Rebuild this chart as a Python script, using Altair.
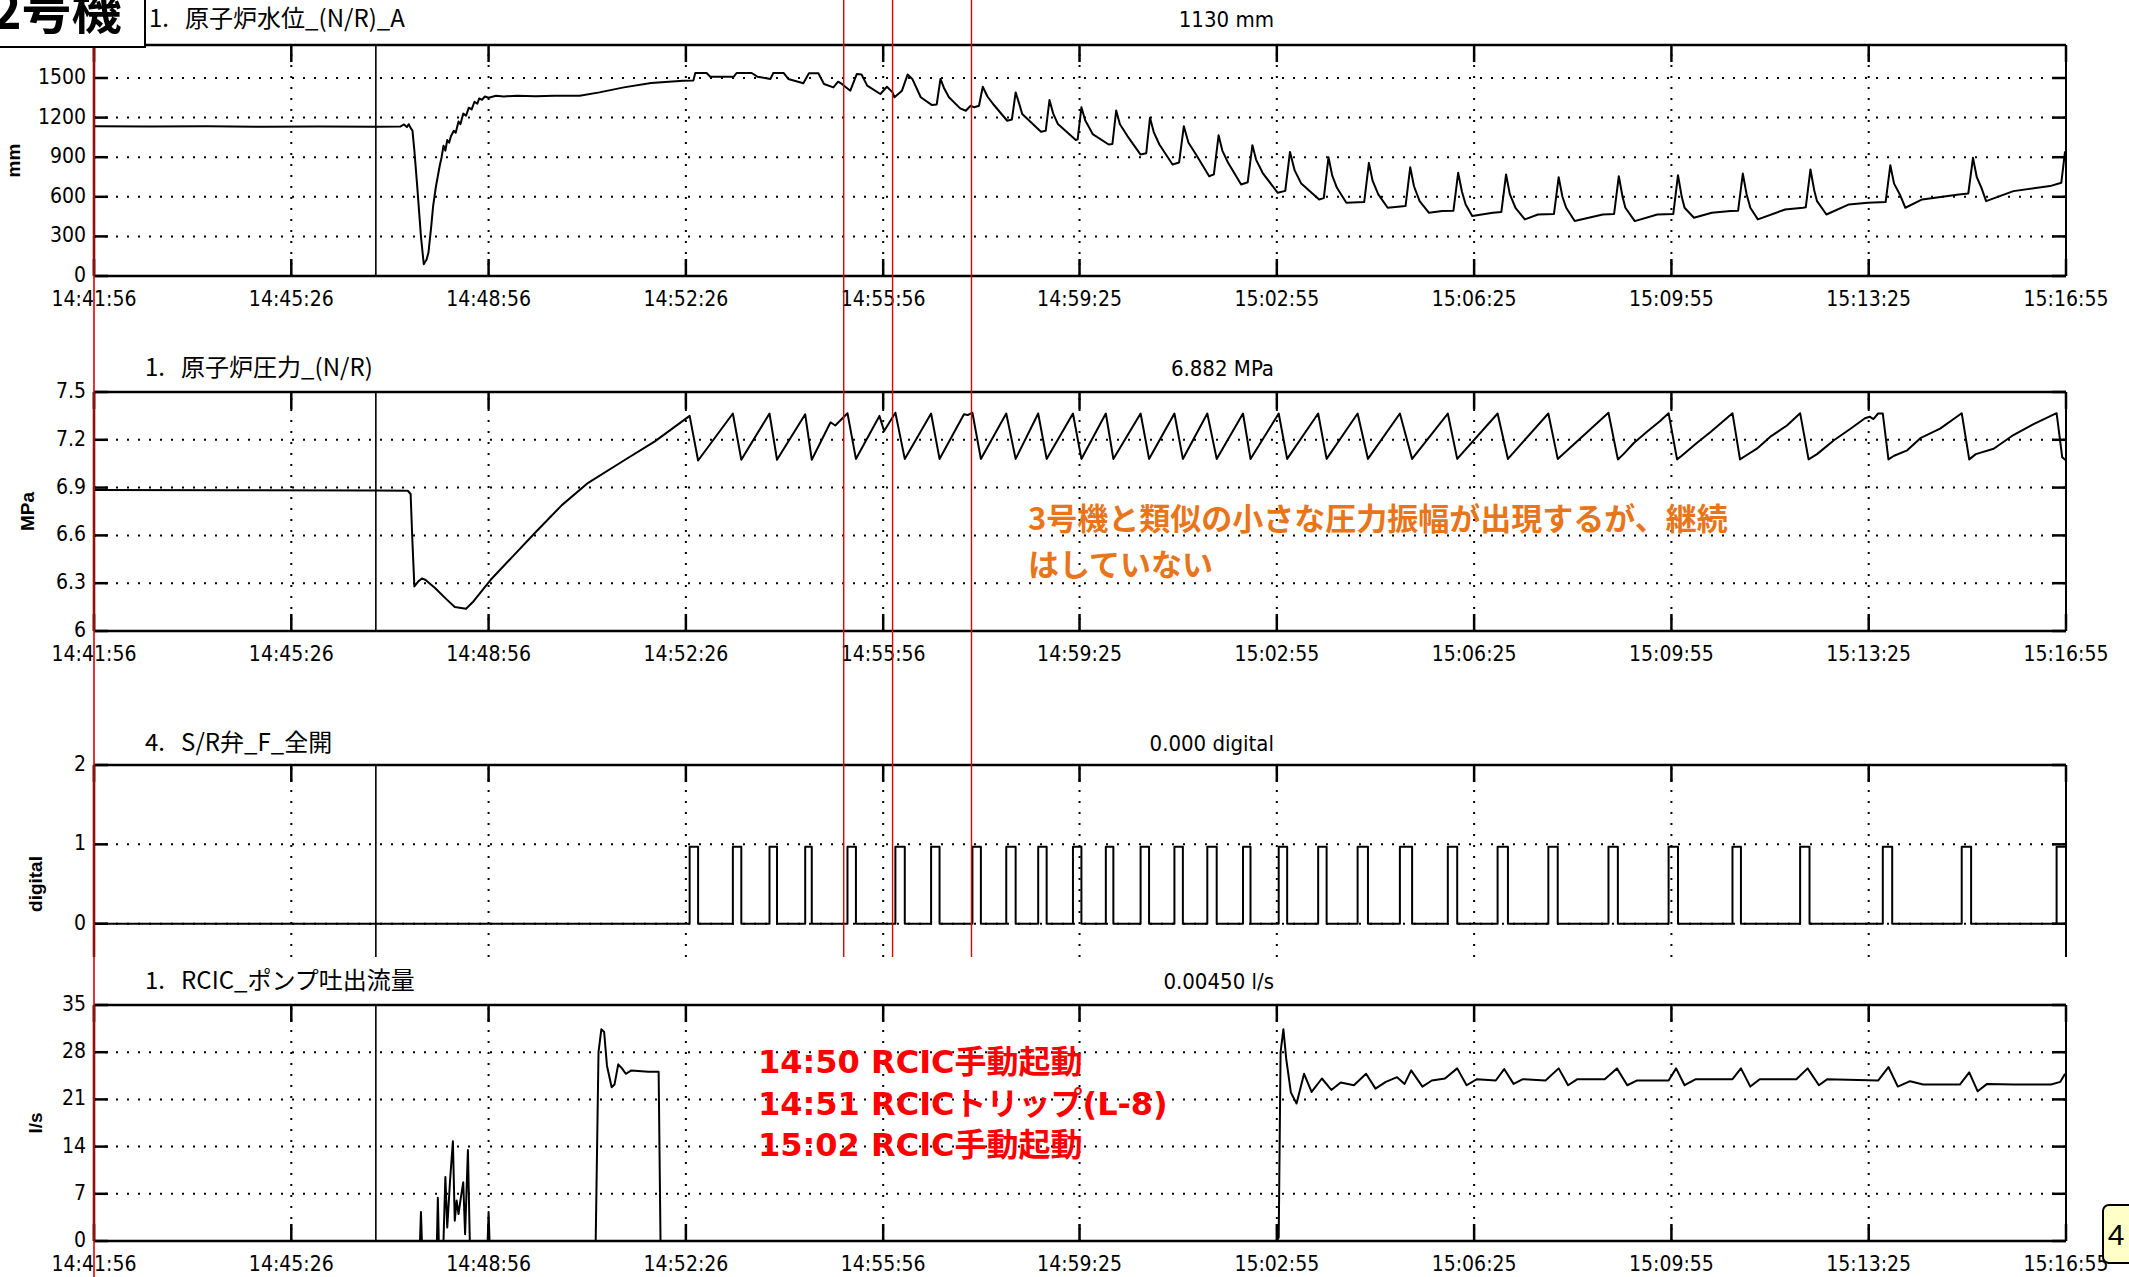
import altair as alt
import pandas as pd

# ---------------- values ----------------
TICK_SECONDS = [0, 210, 420, 630, 840, 1049, 1259, 1469, 1679, 1889, 2099]
TICK_LABELS = ["14:41:56", "14:45:26", "14:48:56", "14:52:26", "14:55:56",
               "14:59:25", "15:02:55", "15:06:25", "15:09:55", "15:13:25", "15:16:55"]
T_END = 2099

# 1. 原子炉水位 (mm), time in seconds after 14:41:56
LEVEL_T = [0, 60, 120, 180, 240, 300, 326, 330, 333, 335, 337, 339, 341, 344, 348, 351, 354, 356,
           359, 361, 364, 368, 370, 372, 374, 376, 378, 380, 383, 385, 388, 390, 393, 396, 399, 402,
           405, 408, 410, 413, 416, 420, 428, 436, 450, 470, 490, 517, 538, 564, 593, 627, 638, 640,
           652, 656, 681, 684, 700, 706, 720, 723, 734, 739, 755, 761, 771, 777, 787, 792, 796, 805,
           812, 817, 823, 837, 844, 850, 852, 860, 866, 871, 880, 892, 897, 901, 905, 910, 922, 928,
           933, 937, 942, 946, 951, 957, 972, 977, 981, 985, 988, 1008, 1013, 1017, 1021, 1026, 1045,
           1047, 1051, 1055, 1063, 1080, 1084, 1088, 1092, 1100, 1114, 1120, 1124, 1128, 1134, 1148,
           1155, 1160, 1165, 1173, 1187, 1192, 1197, 1201, 1207, 1221, 1228, 1233, 1237, 1244, 1260,
           1268, 1273, 1278, 1285, 1304, 1309, 1314, 1318, 1323, 1333, 1352, 1357, 1361, 1367, 1377,
           1396, 1401, 1405, 1411, 1421, 1435, 1447, 1452, 1456, 1460, 1467, 1489, 1498, 1503, 1507,
           1513, 1523, 1537, 1554, 1559, 1563, 1567, 1576, 1606, 1618, 1623, 1627, 1630, 1640, 1664,
           1681, 1686, 1690, 1693, 1703, 1722, 1742, 1750, 1755, 1759, 1763, 1771, 1800, 1819, 1822,
           1827, 1831, 1834, 1844, 1868, 1888, 1907, 1912, 1916, 1922, 1928, 1946, 1985, 1995, 2000,
           2004, 2009, 2014, 2043, 2082, 2094, 2098]
LEVEL_MM = [1135, 1133, 1134, 1131, 1132, 1130, 1132, 1148, 1128, 1150, 1122, 1100, 950, 683, 300, 89,
            125, 177, 380, 531, 680, 835, 900, 987, 950, 1030, 1010, 1060, 1100, 1085, 1170, 1150, 1230,
            1215, 1275, 1262, 1320, 1305, 1345, 1335, 1360, 1350, 1365, 1360, 1366, 1362, 1365, 1366,
            1391, 1429, 1462, 1480, 1482, 1538, 1538, 1510, 1510, 1538, 1538, 1510, 1493, 1538, 1538,
            1493, 1460, 1536, 1536, 1455, 1429, 1472, 1455, 1404, 1531, 1526, 1442, 1379, 1434, 1391,
            1354, 1404, 1526, 1493, 1354, 1295, 1300, 1493, 1420, 1354, 1270, 1252, 1290, 1278, 1290,
            1434, 1360, 1303, 1176, 1185, 1391, 1300, 1227, 1093, 1100, 1333, 1230, 1151, 1030, 1035,
            1278, 1180, 1075, 996, 1000, 1253, 1150, 1060, 920, 930, 1198, 1090, 996, 845, 860, 1134,
            1010, 920, 756, 770, 1066, 950, 860, 693, 710, 991, 880, 780, 630, 645, 940, 800, 700, 580,
            590, 900, 760, 668, 555, 560, 857, 720, 618, 517, 530, 824, 680, 567, 479, 492, 495, 782,
            640, 542, 454, 479, 485, 769, 620, 517, 429, 466, 470, 749, 600, 517, 416, 466, 470, 756,
            600, 517, 416, 466, 470, 764, 600, 517, 441, 479, 492, 495, 776, 620, 517, 429, 504, 517,
            520, 807, 650, 567, 466, 542, 555, 560, 839, 700, 620, 517, 580, 618, 625, 895, 750, 668,
            567, 643, 681, 706, 945]

# 1. 原子炉圧力 (MPa)
PRESS_T = [0, 150, 300, 334, 337, 339, 341, 345, 349, 353, 357, 363, 375, 384, 396, 403, 422, 446, 470,
           498, 526, 564, 597, 634, 643, 680, 689, 719, 727, 757, 764, 784, 789, 802, 811, 836, 841, 853,
           863, 891, 900, 926, 930, 935, 944, 971, 981, 1005, 1014, 1042, 1051, 1077, 1085, 1114, 1123,
           1150, 1159, 1185, 1195, 1223, 1231, 1261, 1270, 1303, 1312, 1345, 1356, 1390, 1403, 1441,
           1451, 1494, 1505, 1548, 1558, 1612, 1622, 1628, 1639, 1653, 1667, 1676, 1685, 1690, 1706,
           1721, 1744, 1752, 1758, 1770, 1784, 1802, 1816, 1825, 1834, 1852, 1870, 1885, 1890, 1894,
           1899, 1904, 1910, 1916, 1930, 1944, 1965, 1988, 1996, 2003, 2022, 2043, 2065, 2089, 2095, 2099]
PRESS_MPA = [6.885, 6.883, 6.882, 6.88, 6.86, 6.55, 6.28, 6.31, 6.33, 6.32, 6.30, 6.27, 6.20, 6.15, 6.14,
             6.18, 6.32, 6.47, 6.62, 6.79, 6.93, 7.07, 7.19, 7.35, 7.07, 7.365, 7.075, 7.365, 7.075,
             7.36, 7.075, 7.31, 7.29, 7.367, 7.08, 7.35, 7.255, 7.37, 7.08, 7.365, 7.08, 7.36, 7.355,
             7.37, 7.08, 7.365, 7.08, 7.365, 7.08, 7.365, 7.08, 7.365, 7.08, 7.365, 7.08, 7.365, 7.08,
             7.365, 7.08, 7.365, 7.08, 7.365, 7.08, 7.365, 7.08, 7.365, 7.08, 7.365, 7.08, 7.365, 7.08,
             7.365, 7.08, 7.365, 7.08, 7.37, 7.077, 7.11, 7.18, 7.25, 7.318, 7.367, 7.077, 7.10, 7.18,
             7.25, 7.367, 7.077, 7.10, 7.144, 7.218, 7.29, 7.367, 7.077, 7.11, 7.197, 7.271, 7.335,
             7.345, 7.33, 7.365, 7.365, 7.077, 7.10, 7.134, 7.21, 7.27, 7.367, 7.077, 7.11, 7.144, 7.23,
             7.30, 7.367, 7.09, 7.07]

# 4. S/R弁_F_全開 : opening / closing times (s) and the plotted "open" level
SRV_OPEN_T = [634, 680, 719, 757, 802, 853, 891, 935, 971, 1005, 1042, 1077, 1114, 1150, 1185, 1223,
              1261, 1303, 1345, 1390, 1441, 1494, 1548, 1612, 1676, 1744, 1816, 1904, 1988, 2089]
SRV_CLOSE_T = [643, 689, 727, 764, 811, 863, 900, 944, 981, 1014, 1051, 1085, 1123, 1159, 1195, 1231,
               1270, 1312, 1356, 1403, 1451, 1505, 1558, 1622, 1686, 1753, 1826, 1914, 1998, 2099]
SRV_OPEN_LEVEL = 0.97

# 1. RCIC_ポンプ吐出流量 (l/s)
FLOW_T = [0, 347, 348, 349, 365, 366, 367, 372, 374, 376, 379, 382, 384, 386, 388, 390, 393, 395, 398,
          400, 419, 420, 421, 534, 537, 540, 543, 546, 551, 554, 558, 562, 566, 572, 590, 601, 603,
          1259, 1261, 1263, 1266, 1269, 1274, 1280, 1288, 1296, 1307, 1317, 1327, 1341, 1354, 1364,
          1375, 1387, 1395, 1402, 1414, 1424, 1438, 1451, 1461, 1472, 1492, 1501, 1511, 1521, 1545,
          1559, 1569, 1579, 1608, 1621, 1632, 1642, 1676, 1684, 1693, 1705, 1744, 1753, 1763, 1773,
          1812, 1824, 1836, 1845, 1899, 1910, 1920, 1933, 1947, 1986, 1996, 2005, 2015, 2044, 2083,
          2093, 2098]
FLOW_LS = [0, 0, 4.3, 0, 0, 6.4, 0, 0, 9.5, 2, 9, 14.8, 3, 6, 4, 6, 8.7, 1, 13.5, 0, 0, 4.3, 0, 0, 28,
           31.4, 31, 26, 22.8, 23.2, 26.2, 25.6, 24.8, 25.3, 25.1, 25.1, 0, 0, 0.5, 28, 31.4, 27, 22,
           20.4, 24.8, 22.1, 24.1, 22.4, 23.5, 23.1, 24.8, 22.6, 23.6, 24.3, 23.3, 25.3, 22.9, 23.8,
           24.1, 25.6, 23.1, 24.0, 23.8, 25.5, 23.3, 24.0, 23.8, 25.6, 23.1, 24.0, 24.0, 25.6, 23.1,
           23.8, 23.8, 25.6, 23.1, 24.0, 24.0, 25.6, 22.9, 24.0, 24.0, 25.6, 23.1, 24.0, 23.8, 25.8,
           22.9, 23.7, 23.2, 23.2, 25.0, 22.2, 23.3, 23.2, 23.2, 23.6, 24.8]

CURSOR_T = [300]            # black cursor line (14:46:56)
MARKER_T = [798, 850, 934]  # red marker lines

# ---------------- layout / style ----------------
W, H = 1972, 1277
FONT_NUM = "Liberation Sans Narrow, DejaVu Sans Condensed, Arial Narrow, sans-serif"
FONT_JP = "Noto Sans CJK JP"
FONT_TITLE = "Liberation Sans, Arial, sans-serif"
FONT_NOTE = "DejaVu Sans, Noto Sans CJK JP"
DOT = [2, 9]
ONE = alt.Data(values=[{"k": 1}])

xtick_df = pd.DataFrame({"t": TICK_SECONDS, "label": TICK_LABELS})


def panel(df, spec, y_title, title_x, title_at, x_labels=True, bottom=True, interp="linear",
          extra=()):
    lo, hi = spec["dom"]
    xs = alt.Scale(domain=[0, T_END], nice=False, zero=False)
    ys = alt.Scale(domain=spec["dom"], range=spec["rng"], nice=False, zero=False)
    yt_df = pd.DataFrame({"v": spec["ticks"], "label": [str(v) for v in spec["ticks"]]})
    one_df = xtick_df.head(1)

    line = alt.Chart(df).mark_line(color="black", strokeWidth=2, interpolate=interp,
                                   strokeJoin="round").encode(
        x=alt.X("t:Q", scale=xs, axis=None), y=alt.Y("v:Q", scale=ys, axis=None))
    hgrid = alt.Chart(yt_df).mark_rule(color="black", strokeWidth=2, strokeDash=DOT).encode(
        x=alt.XDatum(0, axis=None), x2=alt.X2Datum(T_END), y=alt.Y("v:Q", axis=None))
    vgrid = alt.Chart(xtick_df).mark_rule(color="black", strokeWidth=2, strokeDash=DOT).encode(
        x=alt.X("t:Q", axis=None), y=alt.YDatum(lo, axis=None), y2=alt.Y2Datum(hi))
    top_ticks = alt.Chart(xtick_df).mark_tick(orient="vertical", size=17, thickness=2.5,
                                              color="black", opacity=1, yOffset=8.5).encode(
        x=alt.X("t:Q", axis=None), y=alt.YDatum(hi, axis=None))
    left_ticks = alt.Chart(yt_df).mark_tick(orient="horizontal", size=14, thickness=2.5,
                                            color="black", opacity=1, xOffset=7).encode(
        x=alt.XDatum(0, axis=None), y=alt.Y("v:Q", axis=None))
    right_ticks = alt.Chart(yt_df).mark_tick(orient="horizontal", size=14, thickness=2.5,
                                             color="black", opacity=1, xOffset=-7).encode(
        x=alt.XDatum(T_END, axis=None), y=alt.Y("v:Q", axis=None))
    top_border = alt.Chart(one_df).mark_rule(color="black", strokeWidth=2.5).encode(
        x=alt.XDatum(0, axis=None), x2=alt.X2Datum(T_END), y=alt.YDatum(hi, axis=None))
    left_border = alt.Chart(one_df).mark_rule(color="black", strokeWidth=2.5).encode(
        x=alt.XDatum(0, axis=None), y=alt.YDatum(lo, axis=None), y2=alt.Y2Datum(hi))
    right_border = alt.Chart(one_df).mark_rule(color="black", strokeWidth=2).encode(
        x=alt.XDatum(T_END, axis=None), y=alt.YDatum(lo, axis=None), y2=alt.Y2Datum(hi))
    cursor = alt.Chart(pd.DataFrame({"t": CURSOR_T})).mark_rule(color="black", strokeWidth=1.6).encode(
        x=alt.X("t:Q", axis=None), y=alt.YDatum(lo, axis=None), y2=alt.Y2Datum(hi))
    ylabels = alt.Chart(yt_df).mark_text(align="right", baseline="middle", dx=-8, font=FONT_NUM,
                                         fontSize=21, color="black").encode(
        x=alt.XDatum(0, axis=None), y=alt.Y("v:Q", axis=None), text="label:N")
    ytitle = alt.Chart(ONE).mark_text(angle=270, align="center", baseline="middle", font=FONT_TITLE,
                                      fontSize=19, fontWeight="bold", color="black").encode(
        x=alt.value(title_x), y=alt.YDatum(title_at, axis=None), text=alt.value(y_title))

    layers = [hgrid, vgrid, top_ticks, left_ticks, right_ticks, top_border, left_border,
              right_border, cursor, line, ylabels, ytitle]
    if bottom:
        layers.append(alt.Chart(xtick_df).mark_tick(orient="vertical", size=17, thickness=2.5,
                                                    color="black", opacity=1, yOffset=-8.5).encode(
            x=alt.X("t:Q", axis=None), y=alt.YDatum(lo, axis=None)))
        layers.append(alt.Chart(one_df).mark_rule(color="black", strokeWidth=2.5).encode(
            x=alt.XDatum(0, axis=None), x2=alt.X2Datum(T_END), y=alt.YDatum(lo, axis=None)))
    if x_labels:
        layers.append(alt.Chart(xtick_df).mark_text(align="center", baseline="top", dy=13,
                                                    font=FONT_NUM, fontSize=21, color="black").encode(
            x=alt.X("t:Q", axis=None), y=alt.YDatum(lo, axis=None), text="label:N"))
    layers.extend(extra)
    return alt.layer(*layers)


level_df = pd.DataFrame({"t": LEVEL_T, "v": LEVEL_MM})
press_df = pd.DataFrame({"t": PRESS_T, "v": PRESS_MPA})
dig_t, dig_v = [0], [0]
for s, e in zip(SRV_OPEN_T, SRV_CLOSE_T):
    dig_t += [s, e]
    dig_v += [SRV_OPEN_LEVEL, 0]
srv_df = pd.DataFrame({"t": dig_t, "v": dig_v})
flow_df = pd.DataFrame({"t": FLOW_T, "v": FLOW_LS})

# panel pixel placement (plot-area coordinates)
P1 = dict(dom=[0, 1750], rng=[276, 45], ticks=[0, 300, 600, 900, 1200, 1500])
P2 = dict(dom=[6, 7.5], rng=[631, 392], ticks=[6, 6.3, 6.6, 6.9, 7.2, 7.5])
P3 = dict(dom=[-0.42, 2], rng=[957, 765], ticks=[0, 1, 2])
P4 = dict(dom=[0, 35], rng=[1241, 1005], ticks=[0, 7, 14, 21, 28, 35])

red_markers = alt.Chart(pd.DataFrame({"t": MARKER_T})).mark_rule(color="#e00000", strokeWidth=1.4).encode(
    x=alt.X("t:Q", axis=None), y=alt.YDatum(P3["dom"][0], axis=None), y2=alt.value(0))
red_left = alt.Chart(xtick_df.head(1)).mark_rule(color="#e00000", strokeWidth=1.6).encode(
    x=alt.XDatum(0, axis=None), y=alt.value(0), y2=alt.value(H))

p1 = panel(level_df, P1, "mm", -80, 875)
p2 = panel(press_df, P2, "MPa", -66, 6.75)
p3 = panel(srv_df, P3, "digital", -58, 0.5, x_labels=False, bottom=False, interp="step-after",
           extra=[red_markers])
p4 = panel(flow_df, P4, "l/s", -58, 17.5, extra=[red_left])


def text(label, x, y, size, color="black", font=FONT_JP, weight="normal", align="left",
         baseline="middle"):
    return alt.Chart(ONE).mark_text(font=font, fontSize=size, fontWeight=weight, color=color,
                                    align=align, baseline=baseline).encode(
        x=alt.value(x), y=alt.value(y), text=alt.value(label))


SP = "\u00a0\u00a0\u00a0"
texts = [
    alt.Chart(ONE).mark_rect(fill="white", stroke="black", strokeWidth=2).encode(
        x=alt.value(-95), x2=alt.value(51), y=alt.value(-2), y2=alt.value(47)),
    text("2号機", -102, 29, 50, weight="bold", baseline="alphabetic"),
    text("1." + SP + "原子炉水位_(N/R)_A", 55, 20, 24),
    text("1130 mm", 1180, 20, 22, font=FONT_NUM, align="right"),
    text("1." + SP + "原子炉圧力_(N/R)", 51, 369, 24),
    text("6.882 MPa", 1180, 369, 22, font=FONT_NUM, align="right"),
    text("4." + SP + "S/R弁_F_全開", 51, 744, 24),
    text("0.000 digital", 1180, 744, 22, font=FONT_NUM, align="right"),
    text("1." + SP + "RCIC_ポンプ吐出流量", 51, 982, 24),
    text("0.00450 l/s", 1180, 982, 22, font=FONT_NUM, align="right"),
    text("3号機と類似の小さな圧力振幅が出現するが、継続", 934, 521, 31, color="#e8751a", weight="bold"),
    text("はしていない", 934, 567, 31, color="#e8751a", weight="bold"),
    text("14:50 RCIC手動起動", 664, 1063, 32, color="#ff0000", font=FONT_NOTE, weight="bold"),
    text("14:51 RCICトリップ(L-8)", 664, 1105, 32, color="#ff0000", font=FONT_NOTE, weight="bold"),
    text("15:02 RCIC手動起動", 664, 1146, 32, color="#ff0000", font=FONT_NOTE, weight="bold"),
    alt.Chart(ONE).mark_rect(fill="#ffffc8", stroke="black", strokeWidth=2, cornerRadius=6).encode(
        x=alt.value(2009), x2=alt.value(2042), y=alt.value(1205), y2=alt.value(1263)),
    text("4", 2022, 1236, 30, font=FONT_TITLE, align="center"),
]

chart = alt.layer(p1, p2, p3, p4, *texts).resolve_scale(
    x="independent", y="independent").properties(
    width=W, height=H, padding={"left": 94, "top": 0, "right": 63, "bottom": 0},
    autosize=alt.AutoSizeParams(type="none"), background="white").configure_view(stroke=None)

chart.save("out.html", embed_options={"renderer": "svg", "actions": False})
